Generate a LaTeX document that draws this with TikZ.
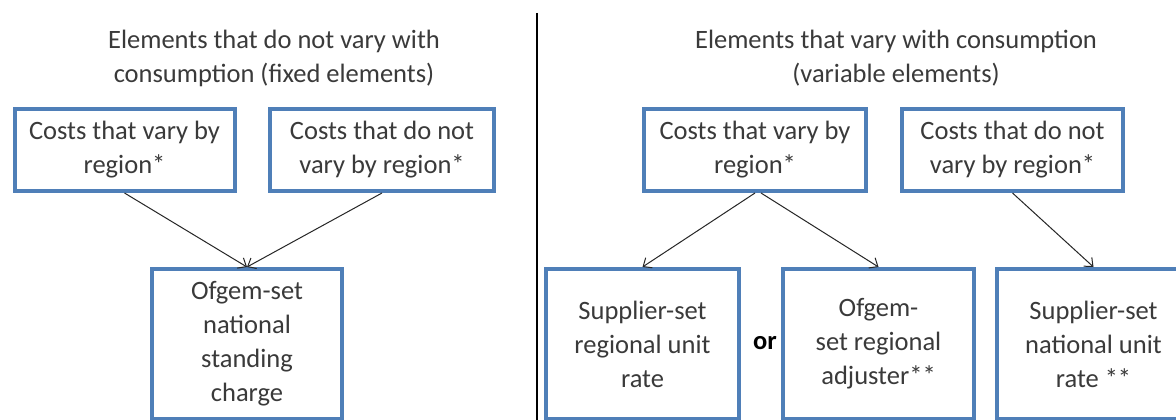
\documentclass[tikz,border=0pt]{standalone}
\usepackage{fontspec}
\setmainfont{Carlito}
\usetikzlibrary{arrows.meta}
\definecolor{boxblue}{HTML}{4F7FB8}
\definecolor{txt}{HTML}{3A3A3A}
\begin{document}
\begin{tikzpicture}[x=1pt,y=-1pt,
  lbl/.style={text=txt, align=center, font=\fontsize{26.5}{34}\selectfont, inner sep=0pt},
  box/.style={lbl, draw=boxblue, line width=4pt},
  smallbox/.style={box, minimum height=82pt},
  tallbox/.style={box, minimum height=150pt},
  conn/.style={draw=black!85, line width=1pt, -{Straight Barb[length=7pt,width=12pt]}}]
\clip (0,0) rectangle (1176,420);
\fill[white] (0,0) rectangle (1176,420);

% titles
\node[lbl] (t1) at (274,58) {Elements that do not vary with\\consumption (fixed elements)};
\node[lbl] (t2) at (896,58) {Elements that vary with consumption\\(variable elements)};

% divider
\coordinate (dtop) at (537,13);
\coordinate (dbot) at (537,420);
\draw[line width=1.2pt] (dtop) -- (dbot);

% left side
\node[smallbox, minimum width=220pt] (b1) at (124.5,150) {Costs that vary by\\region*};
\node[smallbox, minimum width=224pt] (b2) at (382,150) {Costs that do not\\vary by region*};
\node[tallbox, minimum width=190pt] (b3) at (247,344) {Ofgem-set\\national\\standing\\charge};

% right side
\node[smallbox, minimum width=222pt] (b4) at (755,150) {Costs that vary by\\region*};
\node[smallbox, minimum width=221pt] (b5) at (1012.5,150) {Costs that do not\\vary by region*};
\node[tallbox, minimum width=193pt] (b6) at (642.5,344) {Supplier-set\\regional unit\\rate};
\node[tallbox, minimum width=191pt] (b7) at (878.5,344) {Ofgem-\\set regional\\adjuster**};
\node[tallbox, minimum width=193pt] (b8) at (1093.5,344) {Supplier-set\\national unit\\rate **};
\node[lbl, text=black, font=\fontsize{26.5}{34}\selectfont\bfseries] (or) at (765,343) {or};

% connectors
\draw[conn] (b1.south) -- (b3.north);
\draw[conn] (b2.south) -- (b3.north);
\draw[conn] (b4.south) -- (b6.north);
\draw[conn] ([xshift=6pt]b4.south) -- (b7.north);
\draw[conn] (b5.south) -- (b8.north);
\end{tikzpicture}
\end{document}
